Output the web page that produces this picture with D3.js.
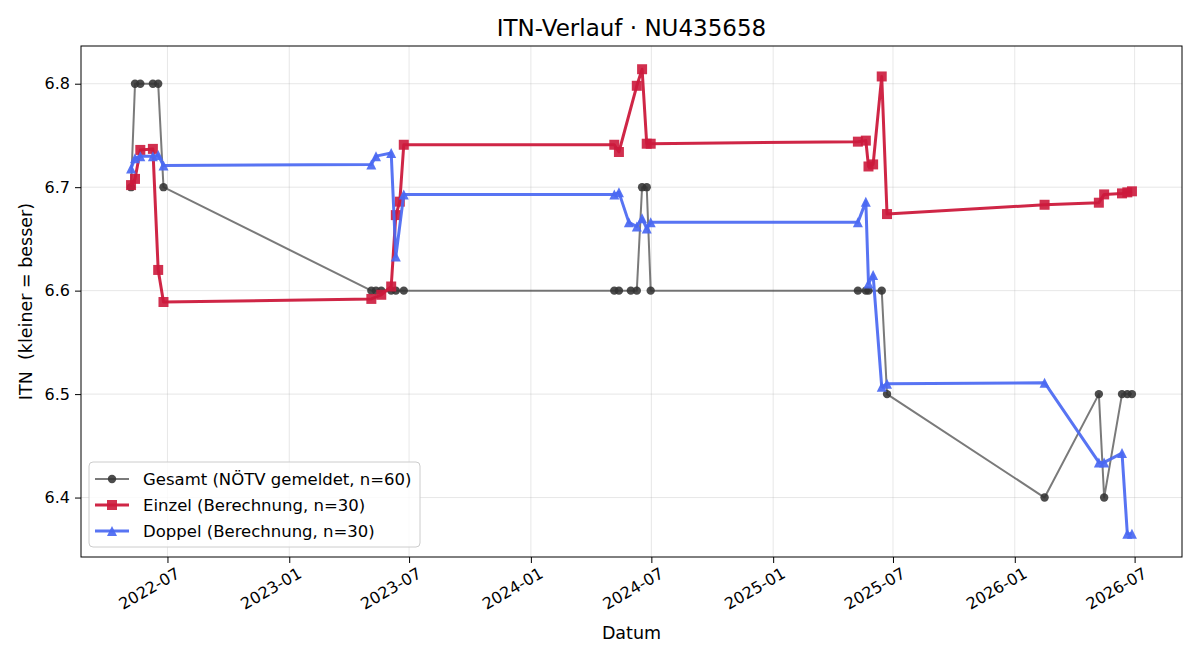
<!DOCTYPE html>
<html>
<head>
<meta charset="utf-8">
<script src="https://cdn.jsdelivr.net/npm/d3@7"></script>
<style>
  body { margin: 0; background: #fff; }
  text { font-family: "DejaVu Sans", sans-serif; fill: #000; white-space: pre; }
</style>
</head>
<body>
<div class="container"></div>
<script>
// Gesamt (NÖTV gemeldet)
const gesamtDates = [
  "2022-05-07", "2022-05-13", "2022-05-21", "2022-06-09", "2022-06-17", "2022-06-25",
  "2023-05-05", "2023-05-12", "2023-05-20", "2023-06-04", "2023-06-11", "2023-06-23",
  "2024-05-06", "2024-05-13", "2024-05-31", "2024-06-09", "2024-06-17", "2024-06-24", "2024-06-30",
  "2025-05-09", "2025-05-21", "2025-05-25", "2025-06-14", "2025-06-22",
  "2026-02-15", "2026-05-08", "2026-05-16", "2026-06-12", "2026-06-20", "2026-06-27"
];
const gesamtValues = [
  6.7, 6.8, 6.8, 6.8, 6.8, 6.7,
  6.6, 6.6, 6.6, 6.6, 6.6, 6.6,
  6.6, 6.6, 6.6, 6.6, 6.7, 6.7, 6.6,
  6.6, 6.6, 6.6, 6.6, 6.5,
  6.4, 6.5, 6.4, 6.5, 6.5, 6.5
];

// Einzel (Berechnung)
const einzelDates = [
  "2022-05-07", "2022-05-13", "2022-05-21", "2022-06-09", "2022-06-17", "2022-06-25",
  "2023-05-05", "2023-05-20", "2023-06-04", "2023-06-11", "2023-06-17", "2023-06-23",
  "2024-05-06", "2024-05-13", "2024-06-09", "2024-06-17", "2024-06-24", "2024-06-30",
  "2025-05-09", "2025-05-21", "2025-05-25", "2025-06-01", "2025-06-14", "2025-06-22",
  "2026-02-15", "2026-05-08", "2026-05-16", "2026-06-12", "2026-06-20", "2026-06-27"
];
const einzelValues = [
  6.702, 6.708, 6.736, 6.737, 6.620, 6.589,
  6.592, 6.596, 6.604, 6.673, 6.686, 6.741,
  6.741, 6.734, 6.798, 6.814, 6.742, 6.742,
  6.744, 6.745, 6.720, 6.722, 6.807, 6.674,
  6.683, 6.685, 6.693, 6.694, 6.695, 6.696
];

// Doppel (Berechnung)
const doppelDates = [
  "2022-05-07", "2022-05-13", "2022-05-21", "2022-06-09", "2022-06-17", "2022-06-25",
  "2023-05-05", "2023-05-12", "2023-06-04", "2023-06-11", "2023-06-23",
  "2024-05-06", "2024-05-13", "2024-05-28", "2024-06-09", "2024-06-17", "2024-06-24", "2024-06-30",
  "2025-05-09", "2025-05-21", "2025-05-25", "2025-06-01", "2025-06-14", "2025-06-22",
  "2026-02-15", "2026-05-08", "2026-05-16", "2026-06-12", "2026-06-20", "2026-06-27"
];
const doppelValues = [
  6.718, 6.728, 6.730, 6.730, 6.731, 6.721,
  6.722, 6.730, 6.733, 6.633, 6.693,
  6.693, 6.695, 6.666, 6.662, 6.670, 6.660, 6.666,
  6.666, 6.686, 6.607, 6.615, 6.507, 6.510,
  6.511, 6.434, 6.434, 6.443, 6.365, 6.365
];

const seriesNames = [
  "Gesamt (NÖTV gemeldet, n=60)",
  "Einzel (Berechnung, n=30)",
  "Doppel (Berechnung, n=30)"
];

const width = 1200;
const height = 660;
const margin = { top: 46, right: 18, bottom: 103, left: 81 };
const innerW = width - margin.left - margin.right;
const innerH = height - margin.top - margin.bottom;

const parse = d3.timeParse("%Y-%m-%d");
const toPoints = (dates, values) => dates.map((d, i) => ({ date: parse(d), value: values[i] }));

const series = [
  { name: seriesNames[0], data: toPoints(gesamtDates, gesamtValues), line: "#333", lineOpacity: 0.65, lineWidth: 2, marker: "circle", fill: "#333", fillOpacity: 0.88 },
  { name: seriesNames[1], data: toPoints(einzelDates, einzelValues), line: "#cc1a3c", lineOpacity: 0.95, lineWidth: 3, marker: "square", fill: "#cc1a3c", fillOpacity: 0.9 },
  { name: seriesNames[2], data: toPoints(doppelDates, doppelValues), line: "#4a68f2", lineOpacity: 0.92, lineWidth: 3, marker: "triangle", fill: "#4a68f2", fillOpacity: 0.92 }
];

const all = series.flatMap(s => s.data);
const [dMin, dMax] = d3.extent(all, d => d.date);
const dPad = (dMax - dMin) * 0.05;
const [vMin, vMax] = d3.extent(all, d => d.value);
const vPad = (vMax - vMin) * 0.05;

const xScale = d3.scaleTime()
  .domain([new Date(+dMin - dPad), new Date(+dMax + dPad)])
  .range([0, innerW]);

const yScale = d3.scaleLinear()
  .domain([vMin - vPad, vMax + vPad])
  .range([innerH, 0]);

const svg = d3.select(".container")
  .append("svg")
  .attr("width", width)
  .attr("height", height);

const g = svg.append("g")
  .attr("transform", `translate(${margin.left}, ${margin.top})`);

const xTicks = xScale.ticks(d3.timeMonth.every(6));
const yTicks = yScale.ticks(5);

// grid
g.append("g").selectAll("line")
  .data(xTicks).join("line")
  .attr("x1", d => xScale(d)).attr("x2", d => xScale(d))
  .attr("y1", 0).attr("y2", innerH)
  .attr("stroke", "#b0b0b0").attr("stroke-opacity", 0.3).attr("stroke-width", 1);

g.append("g").selectAll("line")
  .data(yTicks).join("line")
  .attr("x1", 0).attr("x2", innerW)
  .attr("y1", d => yScale(d)).attr("y2", d => yScale(d))
  .attr("stroke", "#b0b0b0").attr("stroke-opacity", 0.3).attr("stroke-width", 1);

// axes
const xAxis = d3.axisBottom(xScale)
  .tickValues(xTicks)
  .tickFormat(d3.timeFormat("%Y-%m"))
  .tickSize(6).tickPadding(4);

const gX = g.append("g")
  .attr("transform", `translate(0, ${innerH})`)
  .call(xAxis);
gX.select(".domain").remove();
gX.selectAll(".tick line").attr("stroke", "#000");
gX.selectAll(".tick text")
  .attr("font-size", 16)
  .attr("font-family", "DejaVu Sans")
  .attr("text-anchor", "end")
  .attr("dy", null)
  .attr("dominant-baseline", "hanging")
  .attr("transform", "translate(4, 4) rotate(-30)")
  .attr("y", 6).attr("x", 0);

const yAxis = d3.axisLeft(yScale)
  .tickValues(yTicks)
  .tickFormat(d3.format(".1f"))
  .tickSize(6).tickPadding(5);

const gY = g.append("g").call(yAxis);
gY.select(".domain").remove();
gY.selectAll(".tick line").attr("stroke", "#000");
gY.selectAll(".tick text")
  .attr("font-size", 16)
  .attr("font-family", "DejaVu Sans");

// lines and markers
const lineGen = d3.line()
  .x(d => xScale(d.date))
  .y(d => yScale(d.value));

const markerPath = (type, s) => {
  if (type === "square") return `M${-s},${-s}H${s}V${s}H${-s}Z`;
  if (type === "triangle") return `M0,${-s}L${s},${s}L${-s},${s}Z`;
  return d3.symbol(d3.symbolCircle, Math.PI * s * s)();
};

series.forEach(s => {
  g.append("path")
    .attr("d", lineGen(s.data))
    .attr("fill", "none")
    .attr("stroke", s.line)
    .attr("stroke-opacity", s.lineOpacity)
    .attr("stroke-width", s.lineWidth)
    .attr("stroke-linejoin", "round");

  g.append("g").selectAll("path")
    .data(s.data).join("path")
    .attr("transform", d => `translate(${xScale(d.date)}, ${yScale(d.value)})`)
    .attr("d", markerPath(s.marker, s.marker === "circle" ? 4.2 : 5))
    .attr("fill", s.fill)
    .attr("fill-opacity", s.fillOpacity);
});

// frame
g.append("rect")
  .attr("width", innerW).attr("height", innerH)
  .attr("fill", "none").attr("stroke", "#000").attr("stroke-width", 1);

// title and labels
svg.append("text")
  .attr("x", margin.left + innerW / 2).attr("y", 36)
  .attr("text-anchor", "middle")
  .attr("font-size", 23)
  .text("ITN-Verlauf · NU435658");

svg.append("text")
  .attr("x", margin.left + innerW / 2).attr("y", 639)
  .attr("text-anchor", "middle")
  .attr("font-size", 17.5)
  .text("Datum");

svg.append("text")
  .attr("transform", `translate(32, ${margin.top + innerH / 2}) rotate(-90)`)
  .attr("text-anchor", "middle")
  .attr("font-size", 17.5)
  .text("ITN  (kleiner = besser)");

// legend
const legend = g.append("g").attr("transform", "translate(8, 416)");
legend.append("rect")
  .attr("width", 331).attr("height", 85)
  .attr("rx", 4)
  .attr("fill", "#fff").attr("fill-opacity", 0.8)
  .attr("stroke", "#ccc").attr("stroke-width", 1);

series.forEach((s, i) => {
  const row = legend.append("g").attr("transform", `translate(0, ${17 + i * 26})`);
  row.append("line")
    .attr("x1", 6).attr("x2", 40)
    .attr("stroke", s.line).attr("stroke-opacity", s.lineOpacity)
    .attr("stroke-width", s.lineWidth);
  row.append("path")
    .attr("transform", "translate(23, 0)")
    .attr("d", markerPath(s.marker, s.marker === "circle" ? 4.2 : 5))
    .attr("fill", s.fill).attr("fill-opacity", s.fillOpacity);
  row.append("text")
    .attr("x", 54).attr("y", 0)
    .attr("dy", "0.35em")
    .attr("font-size", 16.5)
    .text(s.name);
});
</script>
</body>
</html>
